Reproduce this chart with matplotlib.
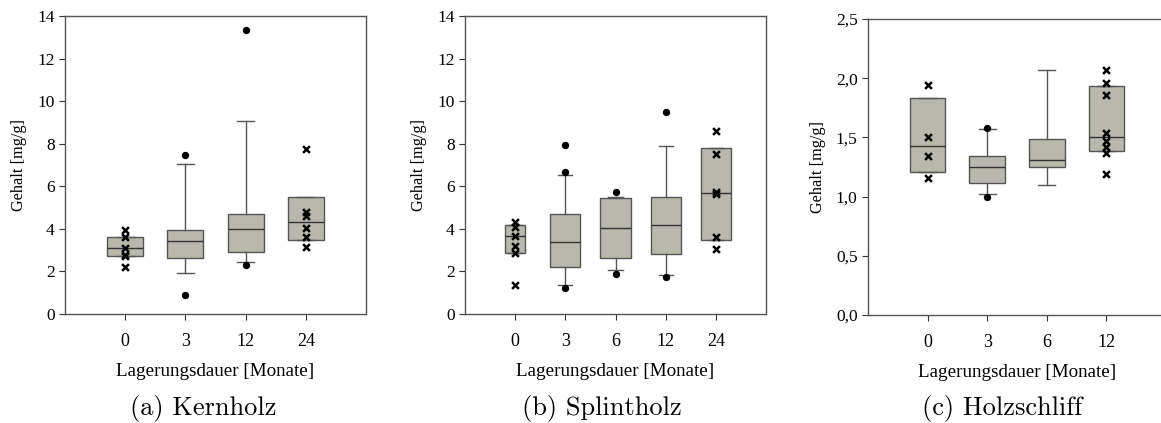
import matplotlib
matplotlib.use("Agg")
import matplotlib.pyplot as plt

# Panel (a) Kernholz
a_labels = ["0", "3", "12", "24"]
a_q1 = [2.72, 2.63, 2.91, 3.50]
a_med = [3.10, 3.44, 4.00, 4.32]
a_q3 = [3.61, 3.96, 4.69, 5.49]
a_wlo = [None, 1.92, 2.42, None]
a_whi = [None, 7.07, 9.07, None]
a_dots = [[], [7.46, 0.89], [13.34, 2.30], []]
a_cross = [[3.96, 3.61, 3.10, 2.78, 2.71, 2.21], [], [], [7.77, 4.80, 4.61, 4.05, 3.61, 3.13]]
a_width = [0.6, 0.6, 0.6, 0.6]

# Panel (b) Splintholz
b_labels = ["0", "3", "6", "12", "24"]
b_q1 = [2.86, 2.21, 2.64, 2.82, 3.50]
b_med = [3.68, 3.38, 4.04, 4.16, 5.68]
b_q3 = [4.19, 4.72, 5.47, 5.52, 7.79]
b_wlo = [None, 1.35, 2.06, 1.83, None]
b_whi = [None, 6.55, 5.52, 7.90, None]
b_dots = [[], [7.95, 6.68, 1.22], [5.73, 1.86], [9.49, 1.74], []]
b_cross = [[4.30, 4.08, 3.68, 3.18, 2.86, 1.36], [], [], [], [8.62, 7.52, 5.71, 5.63, 3.63, 3.05]]
b_width = [0.4, 0.6, 0.6, 0.6, 0.6]

# Panel (c) Holzschliff
c_labels = ["0", "3", "6", "12"]
c_q1 = [1.206, 1.113, 1.251, 1.381]
c_med = [1.426, 1.249, 1.313, 1.502]
c_q3 = [1.829, 1.342, 1.488, 1.931]
c_wlo = [None, 1.020, 1.096, None]
c_whi = [None, 1.570, 2.069, None]
c_dots = [[], [1.581, 1.0], [], []]
c_cross = [[1.942, 1.502, 1.344, 1.156], [], [], [2.069, 1.956, 1.855, 1.536, 1.466, 1.423, 1.367, 1.192]]
c_width = [0.6, 0.6, 0.6, 0.6]

W, H = 1161, 423
fig = plt.figure(figsize=(W / 100, H / 100), dpi=100)

SERIF = "Liberation Serif"
BOXFACE = "#b8b8ac"
EDGE = "#555555"


def px_axes(left, right, top, bottom):
    return fig.add_axes([left / W, 1 - bottom / H, (right - left) / W, (bottom - top) / H])


def draw_panel(ax, labels, q1, med, q3, wlo, whi, dots, cross, widths, ymax, yticks, yticklabels):
    stats = []
    for i in range(len(labels)):
        st = dict(med=med[i], q1=q1[i], q3=q3[i],
                  whislo=wlo[i] if wlo[i] is not None else q1[i],
                  whishi=whi[i] if whi[i] is not None else q3[i],
                  fliers=[])
        stats.append(st)
    pos = list(range(1, len(labels) + 1))
    ax.bxp(stats, positions=pos, widths=widths, patch_artist=True, showfliers=False,
           boxprops=dict(facecolor=BOXFACE, edgecolor=EDGE, linewidth=1.0),
           medianprops=dict(color="#333333", linewidth=1.0),
           whiskerprops=dict(color=EDGE, linewidth=1.0),
           capprops=dict(color=EDGE, linewidth=1.0), capwidths=0.28)
    for i in range(len(labels)):
        if dots[i]:
            ax.scatter([pos[i]] * len(dots[i]), dots[i], s=28, color="black", zorder=5, linewidths=0)
        if cross[i]:
            ax.scatter([pos[i]] * len(cross[i]), cross[i], s=24, marker="x", color="black",
                       zorder=5, linewidths=1.8)
    ax.set_xlim(0, len(labels) + 1)
    ax.set_ylim(0, ymax)
    ax.set_xticks(pos)
    ax.set_xticklabels(labels, fontfamily=SERIF, fontsize=13)
    ax.set_yticks(yticks)
    ax.set_yticklabels(yticklabels, fontfamily=SERIF, fontsize=12.5)
    ax.tick_params(axis="both", direction="out", length=4, width=0.8, color="#333333")
    ax.tick_params(axis="x", pad=10)
    for sp in ax.spines.values():
        sp.set_color("#555555")
        sp.set_linewidth(1.0)
    ax.set_ylabel("Gehalt [mg/g]", fontfamily=SERIF, fontsize=11.7, labelpad=7)
    ax.set_xlabel("Lagerungsdauer [Monate]", fontfamily=SERIF, fontsize=13.7, labelpad=9)


ax_a = px_axes(65, 366, 16, 314)
draw_panel(ax_a, a_labels, a_q1, a_med, a_q3, a_wlo, a_whi, a_dots, a_cross, a_width,
           14, list(range(0, 15, 2)), [str(v) for v in range(0, 15, 2)])

ax_b = px_axes(465, 766, 16, 314)
draw_panel(ax_b, b_labels, b_q1, b_med, b_q3, b_wlo, b_whi, b_dots, b_cross, b_width,
           14, list(range(0, 15, 2)), [str(v) for v in range(0, 15, 2)])

ax_c = px_axes(868, 1166, 19, 315)
c_ticks = [0, 0.5, 1.0, 1.5, 2.0, 2.5]
draw_panel(ax_c, c_labels, c_q1, c_med, c_q3, c_wlo, c_whi, c_dots, c_cross, c_width,
           2.5, c_ticks, [("%.1f" % v).replace(".", ",") for v in c_ticks])
ax_c.spines["right"].set_visible(False)

for x, txt in [(203, "(a) Kernholz"), (602, "(b) Splintholz"), (1002, "(c) Holzschliff")]:
    fig.text(x / W, 1 - 408 / H, txt, fontfamily="cmr10", fontsize=19, ha="center", va="center")

fig.savefig("out.png", dpi=100)
